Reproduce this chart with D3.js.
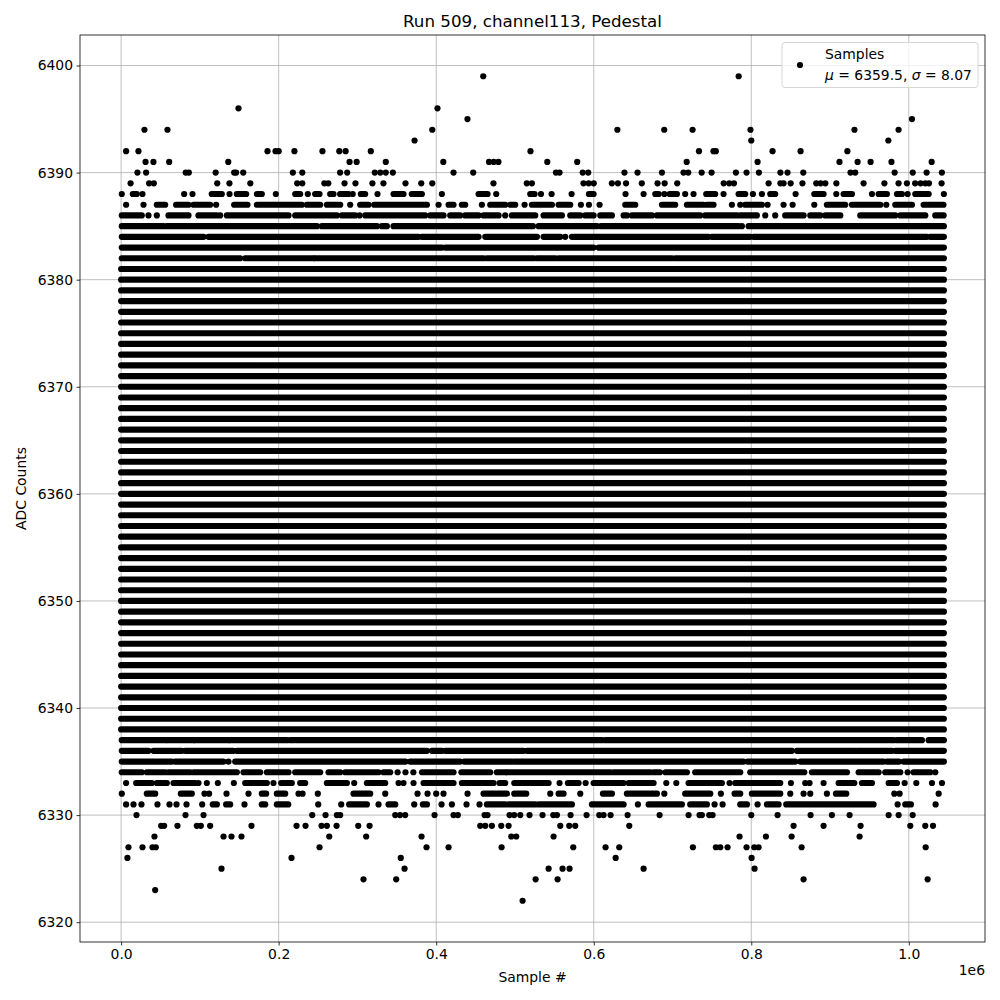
<!DOCTYPE html>
<html>
<head>
<meta charset="utf-8">
<script src="https://cdn.jsdelivr.net/npm/d3@7"></script>
<style>
  body { margin: 0; background: #fff; }
  svg { font-family: "DejaVu Sans", sans-serif; }
</style>
</head>
<body>
<div class="chart"></div>
<script>
// sample positions are in thousands of samples (k)
const lastSampleK = 1044.5;
const xTicks = [0, 0.2e6, 0.4e6, 0.6e6, 0.8e6, 1.0e6];
const yTicks = [6320, 6330, 6340, 6350, 6360, 6370, 6380, 6390, 6400];

// ADC levels that are filled across the whole run
const solidLevels = d3.range(6338, 6382);

// levels that are only partly filled: runs of samples [startK, endK]
const partialLevels = [6388, 6387, 6386, 6385, 6384, 6383, 6382,
                       6337, 6336, 6335, 6334, 6333, 6332, 6331];
const partialRuns = [
  [[0.85],[14.8,19.9],[27.1],[80],[90.6],[115,127.8],[137.6],[146.9,158.7],[172.3,178.6],[196.4],[221,227.3],[237],[246.3,251.8],[265.4,269.6],[278,288.7],[294],[304.3,309.8],[325.5],[345.8,358.5],[369,381.8],[407.2],[453.8,465.2],[476.2],[519.4,524.9],[533],[546.5],[571.9],[593.9,599.8],[640.4],[663.3],[678.1,682.4],[689.6],[696.3,705.6],[716.1],[726.7],[742.8,754.2],[764.8],[783.9,792.3],[802.1],[813.5],[824.1,830.4],[856.3],[880,891.8],[907.9],[917.2,927.8],[953.2],[961.7,972.2],[985,991.3],[998.5],[1008.2,1025.2],[1044.5]],
  [[6.3],[28.4],[45.3,55.9],[69.8,85.5],[91.9,113],[120.6],[143.5,160.4],[172.3,229.4],[235.8,252.7],[261.2,278.1],[290.8],[303.5,314.1],[321.3,388.2],[403],[415.7,422],[432.6,436.8],[458],[468.6,487.6],[494,500.3],[512.2],[521.5,546.9],[555.4,570.2],[583.7],[593.9],[607.4],[640,652.7],[686.6,703.4],[718.3,739.4],[743.7,752.1],[775.4],[786],[792.3,813.5],[820.7],[841],[852.5],[880],[896,919.3],[927.8,963.8],[971.4],[982.8,1004],[1018.8,1044]],
  [[0.85,26.2],[34.7],[45.3],[60.1,85.5],[98.2,121.5],[125.7],[134.2,212.5],[221,273.9],[280.2,297.1],[302.7],[309.9,386],[392.4,409.3],[417.8,430.5],[436.8,453.8],[460.1,479.2],[487.6],[496.1,525.7],[536.3,559.6],[570.2,582.9],[589.2,599.8],[608.3,623.1],[637.9,642.1],[648.5,673.9],[680.2,735.2],[741.5,781.8],[786,807.1],[817.7],[830.4],[843.1,866.4],[874.9,887.6],[893.9,913],[938.4,982.8],[989.2,1020.9],[1033.6,1044.2]],
  [[0.85,53.8],[58,248.5],[254.8,324.7],[331,337.4],[345.8,519.4],[522.8],[530,604],[609.1,783.9],[788.1],[796.6,1044.5]],
  [[0.85,104.6],[110.9,377.6],[381.8,453.8],[462.3,527.9],[536.3,557.5],[563.8],[572.3,745.8],[750,798.7],[802.9,1023],[1027.3,1044.5]],
  [[0.85,407.2],[411.4,599.8],[606.2,1044.5]],
  [[0.85,151.1],[157.5,244.2],[246.4,460.1],[464.4,523.6],[527.9,551.2],[555.4,699.3],[703.5,1044.5]],
  [[0.85,56],[58.8,91.9],[94,136.3],[138.4,210.4],[214.6,610.4],[614.6,980.7],[985,1016.7],[1025.2,1044.5]],
  [[0.85,34.7],[41.1,77],[81.3,142.6],[146.9,388.2],[394.5,407.2],[411.4,510.9],[515.2,851.6],[858,932],[934.1,978.6],[982.8,1044.5]],
  [[0.85,64.3],[68.6,129.9],[136.3],[144.8,361],[367,430.5],[435.6,496.1],[499.1,790.2],[795.3,855.8],[862.2,968],[972.2,987.5],[993.4,1044.5]],
  [[0.85,26.2],[32.6,55.9],[60.1,87.6],[91.9,146.9],[155.4,176.5],[185,212.5],[221,252.7],[263.3,278.1],[284.5,326.8],[333.1,341.6],[351],[361],[371],[382,422],[432,468.6],[477,488],[490,621],[625,672],[676,684],[691,718.3],[728.8,786],[798.7,867.3],[877,921.5],[936.3,961.7],[970.1,989.2],[998.5],[1006.1,1027.3],[1033.6]],
  [[6.3],[19.1,38.9],[45.3,58],[66.5,94],[98.2],[108.8],[122.8],[143.1],[157.5,185],[193.4],[203.2,216.7],[227.3,233.7],[261.2,286.6],[295.9],[312,335.3],[352.2],[358.5],[371.2],[383.9,422],[432.6,472.8],[480.4,487.6],[499.1,542.7],[556.6],[567.2,580.8],[589.7],[599.8,637.9],[644.3,676],[692.1],[704.8],[720.4,762.7],[772.4],[779.6,836.8],[850.3],[868.5],[874],[891.8],[910.9,930.8],[940.5,953.2],[974.4,985],[994.7],[1009.5],[1029.4],[1042.1]],
  [[0.85],[32.6,43.2],[75.8,89.7],[105.8],[111.7],[133.8],[161.7],[178.6,184.1],[197.7,208.3],[225.2],[230.3],[249.7],[295,316.2],[335.3],[376.3],[389],[400],[409.3],[439.8],[460.1,489.8],[499.1,514.3],[544.8],[555.4,561.7],[582.9],[611.7,623.1],[642.1,680.2],[689.6],[716.1,747.9],[761.4],[778.8,786],[800.8,836.8],[849.5],[866.4],[874.9],[896],[907.5,920.6],[981.6],[988.3],[1037.9]],
  [[6.3],[15.7],[25.8],[46.1],[61.4],[70.3],[83],[102.9],[116.4,121.5],[133.3,138.4],[156.6],[178.6,182.9],[197.7,212.1],[250.2],[279.4],[289.5,312],[326.8],[339.5,348],[372.1],[383.1,388.2],[406.8],[419.9],[438.5],[455],[464.4,487.6],[491.9,525.7],[530,572.3],[597.7,637.9],[656.1],[669.7,711.9],[722.5,743.7],[753.4],[763.6],[786,794.5],[808],[819.9,834.7],[844.4,955.3],[985.8],[995.5,1002.7],[1034]]
];

// isolated samples on the sparse levels
const outlierLevels = [6399, 6396, 6395, 6394, 6393, 6392, 6391, 6390, 6389,
                       6330, 6329, 6328, 6327, 6326, 6325, 6324, 6323, 6322];
const outlierSamples = [
  [459.7, 784],
  [149, 401.6],
  [439.7, 1004],
  [29.6, 58.8, 395, 630, 689.5, 725.5, 799, 931, 987],
  [372.5, 800, 974],
  [6.3, 22, 185.8, 196, 200, 220, 255.6, 277, 285, 317, 519.7, 733.6, 752, 755, 827, 862.6, 922],
  [31, 41, 61, 136, 290, 299, 336, 409, 467, 473, 479, 541, 579, 718, 808, 912, 935, 951.5, 978, 1029],
  [20.7, 31.7, 82, 86, 120, 143.5, 146, 155, 218, 230, 278, 287, 322, 329, 336, 345, 422, 447, 552, 556.6, 586, 593, 639, 655.6, 686.6, 714, 720, 737, 749.6, 780.5, 794, 809.7, 837, 846, 866, 926, 932, 982, 1005, 1022.6, 1042],
  [12, 35.5, 41.5, 122, 137.5, 164, 223.5, 230, 258, 263, 283.6, 297.5, 319, 333, 361, 381, 395, 472.7, 515, 521.5, 587, 593.6, 600, 623, 630.7, 641, 661, 681, 690, 706, 765, 772, 778, 822, 837, 841, 850, 865, 882.5, 888, 894, 908, 942.6, 969, 987, 997.6, 1008, 1015, 1021, 1025.6, 1041.6],
  [19.5, 81.7, 104.6, 242.6, 259.5, 273.9, 278.1, 348, 354, 360.6, 397.9, 422, 427.5, 461.4, 465.2, 493.1, 499, 506.7, 518.5, 535, 548.6, 553.3, 570.6, 590.9, 607, 612.5, 621.4, 643, 683.6, 720.4, 734.3, 737.3, 746.6, 750.9, 800, 833.4, 875.3, 902.4, 924.8, 974.4, 987.1, 1004.9],
  [50.8, 54.6, 71.5, 96.1, 101.2, 113, 165.5, 222.7, 234.1, 254.4, 261.2, 273.5, 301, 315.4, 455.9, 462.3, 470.7, 482.6, 491.9, 557.5, 568.9, 576.5, 645.1, 853.7, 891.8, 938.8, 1001.9, 1020.9, 1030.7],
  [42.3, 130, 140.1, 152.8, 264.2, 311.1, 381.4, 495.3, 501.6, 549, 785.1, 818.6, 851.2, 937.5],
  [9.3, 27.1, 39.8, 44, 251.9, 387.7, 415.7, 483, 574, 615, 632.4, 725.9, 755.1, 760.6, 769.9, 794, 803.8, 809.3, 863.9, 1021.4],
  [8, 216.3, 355, 627.8, 800.4],
  [127.4, 359.8, 542.7, 560.4, 569.3, 663.3, 804.2],
  [307.7, 349.2, 526.2, 554.1, 866.4, 1023.9],
  [43.2],
  [509.7]
];

const legendMu = "6359.5", legendSigma = "8.07";

const svgWidth = 1000, svgHeight = 1000;
const margin = {top: 35, right: 15, bottom: 58, left: 80};
const dotR = 3.1;

const svg = d3.select(".chart").append("svg")
  .attr("width", svgWidth)
  .attr("height", svgHeight);

// matplotlib style 5% margins around the data
const xMax = lastSampleK * 1000;
const yMin = 6322, yMax = 6399;
const x = d3.scaleLinear()
  .domain([-0.05 * xMax, 1.05 * xMax])
  .range([margin.left, svgWidth - margin.right]);
const yPad = (yMax - yMin) * 0.05;
const y = d3.scaleLinear()
  .domain([yMin - yPad, yMax + yPad])
  .range([svgHeight - margin.bottom, margin.top]);

const x0 = margin.left, x1 = svgWidth - margin.right;
const y0 = svgHeight - margin.bottom, y1 = margin.top;

// grid
const grid = svg.append("g").attr("stroke", "#b0b0b0").attr("stroke-width", 0.8);
grid.selectAll(".gx").data(xTicks).enter().append("line")
  .attr("x1", d => x(d)).attr("x2", d => x(d)).attr("y1", y0).attr("y2", y1);
grid.selectAll(".gy").data(yTicks).enter().append("line")
  .attr("y1", d => y(d)).attr("y2", d => y(d)).attr("x1", x0).attr("x2", x1);

// data
const marks = svg.append("g").attr("fill", "#000").attr("stroke", "#000");

marks.selectAll(".solid").data(solidLevels).enter().append("line")
  .attr("x1", x(0)).attr("x2", x(xMax))
  .attr("y1", d => y(d)).attr("y2", d => y(d))
  .attr("stroke-width", dotR * 2).attr("stroke-linecap", "round");

const runRows = [];
partialLevels.forEach((lvl, i) => {
  partialRuns[i].forEach(r => runRows.push({adc: lvl, a: r[0], b: r.length > 1 ? r[1] : r[0]}));
});
marks.selectAll(".run").data(runRows).enter().append("line")
  .attr("x1", d => x(d.a * 1000)).attr("x2", d => x(d.b * 1000))
  .attr("y1", d => y(d.adc)).attr("y2", d => y(d.adc))
  .attr("stroke-width", dotR * 2).attr("stroke-linecap", "round");

const pts = [];
outlierLevels.forEach((lvl, i) => outlierSamples[i].forEach(s => pts.push({adc: lvl, s: s})));
marks.selectAll("circle").data(pts).enter().append("circle")
  .attr("cx", d => x(d.s * 1000)).attr("cy", d => y(d.adc))
  .attr("r", dotR).attr("stroke", "none");

// axes
const xAxis = d3.axisBottom(x).tickValues(xTicks).tickSizeOuter(0).tickSize(3.5).tickPadding(3.5)
  .tickFormat(d => (d / 1e6).toFixed(1));
const yAxis = d3.axisLeft(y).tickValues(yTicks).tickSizeOuter(0).tickSize(3.5).tickPadding(3.5)
  .tickFormat(d3.format("d"));

const gx = svg.append("g").attr("transform", `translate(0, ${y0})`).call(xAxis);
const gy = svg.append("g").attr("transform", `translate(${x0}, 0)`).call(yAxis);
[gx, gy].forEach(g => {
  g.select(".domain").remove();
  g.selectAll("line").attr("stroke", "#000").attr("stroke-width", 0.8);
  g.selectAll("text").attr("fill", "#000").style("font-size", "13.9px")
    .style("font-family", "DejaVu Sans, sans-serif");
});

// frame
svg.append("rect")
  .attr("x", x0).attr("y", y1).attr("width", x1 - x0).attr("height", y0 - y1)
  .attr("fill", "none").attr("stroke", "#000").attr("stroke-width", 0.8);

// labels
svg.append("text").attr("x", (x0 + x1) / 2).attr("y", 27)
  .attr("text-anchor", "middle").style("font-size", "16.7px")
  .text("Run 509, channel113, Pedestal");

svg.append("text").attr("x", (x0 + x1) / 2).attr("y", 982)
  .attr("text-anchor", "middle").style("font-size", "13.9px")
  .text("Sample #");

svg.append("text").attr("x", x1).attr("y", 975)
  .attr("text-anchor", "end").style("font-size", "13.9px")
  .text("1e6");

svg.append("text")
  .attr("transform", `translate(26, ${(y0 + y1) / 2}) rotate(-90)`)
  .attr("text-anchor", "middle").style("font-size", "13.9px")
  .text("ADC Counts");

// legend
const lg = svg.append("g");
lg.append("rect").attr("x", 782).attr("y", 42.5).attr("width", 196).attr("height", 45)
  .attr("rx", 3).attr("fill", "#fff").attr("fill-opacity", 0.8)
  .attr("stroke", "#d6d6d6").attr("stroke-width", 1);
lg.append("circle").attr("cx", 800).attr("cy", 65).attr("r", dotR).attr("fill", "#000");
lg.append("text").attr("x", 825).attr("y", 59).style("font-size", "13.9px").text("Samples");
const t2 = lg.append("text").attr("x", 825).attr("y", 80).style("font-size", "13.9px");
t2.append("tspan").style("font-style", "italic").text("μ");
t2.append("tspan").text(` = ${legendMu}, `);
t2.append("tspan").style("font-style", "italic").text("σ");
t2.append("tspan").text(` = ${legendSigma}`);
</script>
</body>
</html>
